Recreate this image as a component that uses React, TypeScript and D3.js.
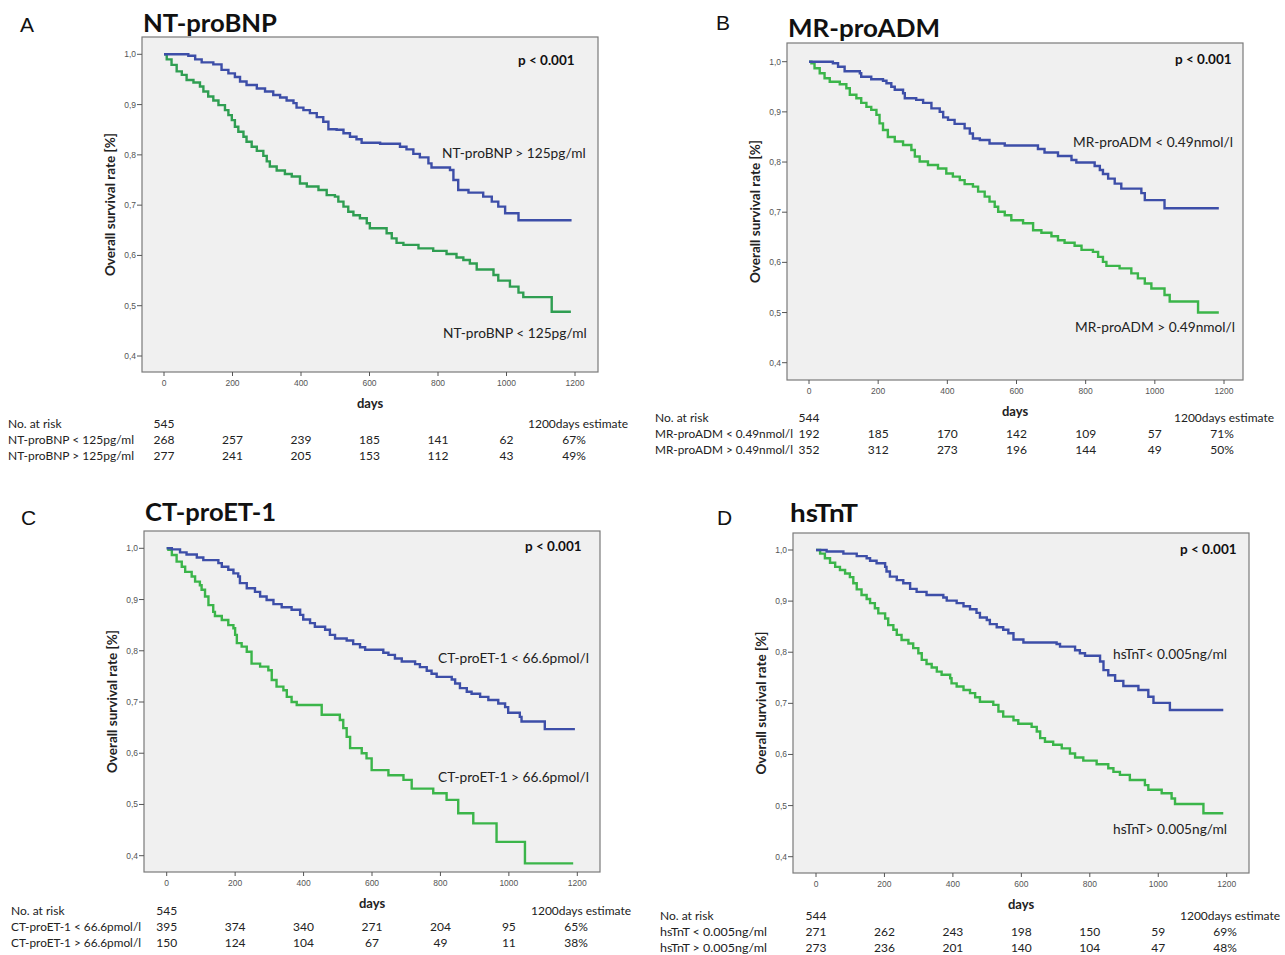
import React from "react";
import * as d3 from "d3";

type Pt = [number, number];

const xTicks = [0, 200, 400, 600, 800, 1000, 1200];
const yTicks = [0.4, 0.5, 0.6, 0.7, 0.8, 0.9, 1.0];
const riskDays = [0, 200, 400, 600, 800, 1000];

// ---- Panel A: NT-proBNP ----
const ntHigh: Pt[] = [
  [71, 0.997], [91, 0.99], [110, 0.984], [144, 0.98], [168, 0.969], [188, 0.962], [207, 0.955],
  [222, 0.946], [241, 0.939], [271, 0.932], [295, 0.926], [319, 0.919], [339, 0.914], [358, 0.908],
  [378, 0.903], [387, 0.894], [407, 0.889], [426, 0.883], [446, 0.875], [465, 0.866], [480, 0.851],
  [504, 0.85], [524, 0.843], [543, 0.836], [562, 0.831], [577, 0.824], [631, 0.822], [689, 0.816],
  [708, 0.811], [728, 0.802], [747, 0.795], [772, 0.783], [781, 0.775], [835, 0.77], [845, 0.75],
  [859, 0.73], [889, 0.725], [932, 0.717], [957, 0.707], [976, 0.697], [996, 0.684], [1035, 0.67],
];
const ntLow: Pt[] = [
  [8, 0.99], [22, 0.979], [37, 0.966], [52, 0.959], [66, 0.949], [86, 0.944], [105, 0.936],
  [115, 0.926], [129, 0.916], [144, 0.908], [159, 0.899], [178, 0.889], [188, 0.879], [198, 0.869],
  [207, 0.856], [217, 0.846], [232, 0.836], [241, 0.826], [256, 0.816], [271, 0.808], [290, 0.798],
  [300, 0.787], [309, 0.777], [329, 0.769], [353, 0.762], [373, 0.757], [397, 0.743], [417, 0.737],
  [451, 0.73], [475, 0.72], [499, 0.717], [509, 0.707], [524, 0.697], [538, 0.687], [553, 0.68],
  [572, 0.674], [592, 0.664], [601, 0.654], [650, 0.644], [665, 0.634], [679, 0.625], [699, 0.621],
  [743, 0.614], [786, 0.609], [825, 0.603], [854, 0.596], [874, 0.591], [893, 0.584], [913, 0.572],
  [962, 0.561], [976, 0.55], [1010, 0.538], [1035, 0.526], [1049, 0.517], [1132, 0.488],
];

// ---- Panel B: MR-proADM ----
const admLow: Pt[] = [
  [69, 0.997], [84, 0.99], [103, 0.981], [147, 0.977], [151, 0.97], [180, 0.965], [214, 0.962],
  [224, 0.957], [238, 0.95], [248, 0.944], [272, 0.937], [277, 0.927], [310, 0.924], [330, 0.918],
  [354, 0.907], [378, 0.9], [388, 0.889], [402, 0.884], [421, 0.876], [450, 0.867], [465, 0.857],
  [474, 0.847], [494, 0.844], [522, 0.837], [566, 0.833], [662, 0.826], [681, 0.819], [720, 0.812],
  [759, 0.804], [773, 0.799], [826, 0.792], [841, 0.784], [850, 0.776], [865, 0.767], [884, 0.757],
  [903, 0.747], [961, 0.738], [971, 0.724], [1028, 0.708],
];
const admHigh: Pt[] = [
  [7, 0.997], [16, 0.987], [31, 0.977], [45, 0.967], [60, 0.96], [89, 0.955], [108, 0.947],
  [118, 0.934], [137, 0.927], [151, 0.918], [166, 0.91], [180, 0.904], [195, 0.894], [204, 0.877],
  [214, 0.864], [228, 0.85], [248, 0.841], [272, 0.834], [296, 0.824], [306, 0.811], [320, 0.801],
  [344, 0.794], [373, 0.787], [397, 0.777], [416, 0.771], [436, 0.764], [450, 0.756], [474, 0.751],
  [489, 0.741], [508, 0.731], [522, 0.721], [537, 0.711], [547, 0.701], [566, 0.694], [585, 0.684],
  [619, 0.678], [648, 0.664], [672, 0.659], [701, 0.652], [720, 0.644], [739, 0.639], [768, 0.633],
  [788, 0.625], [821, 0.621], [836, 0.611], [850, 0.601], [860, 0.593], [898, 0.588], [932, 0.578],
  [951, 0.568], [971, 0.558], [990, 0.548], [1028, 0.535], [1043, 0.522], [1125, 0.5],
];

// ---- Panel C: CT-proET-1 ----
const etLow: Pt[] = [
  [15, 0.998], [39, 0.992], [58, 0.988], [88, 0.982], [107, 0.977], [151, 0.971], [161, 0.964],
  [180, 0.958], [195, 0.951], [209, 0.945], [214, 0.932], [234, 0.922], [258, 0.915], [273, 0.906],
  [292, 0.899], [312, 0.891], [336, 0.885], [365, 0.88], [390, 0.87], [399, 0.861], [419, 0.854],
  [433, 0.847], [463, 0.841], [477, 0.831], [492, 0.824], [526, 0.82], [545, 0.813], [565, 0.807],
  [580, 0.802], [633, 0.796], [648, 0.792], [667, 0.785], [687, 0.779], [726, 0.774], [740, 0.768],
  [760, 0.761], [774, 0.755], [789, 0.749], [833, 0.744], [843, 0.736], [857, 0.727], [877, 0.72],
  [891, 0.716], [916, 0.71], [940, 0.704], [969, 0.697], [989, 0.69], [998, 0.679], [1032, 0.671],
  [1037, 0.662], [1105, 0.647],
];
const etHigh: Pt[] = [
  [5, 0.997], [15, 0.987], [29, 0.974], [44, 0.964], [54, 0.954], [73, 0.945], [83, 0.935],
  [97, 0.928], [102, 0.919], [112, 0.906], [122, 0.889], [136, 0.876], [141, 0.868], [161, 0.86],
  [180, 0.85], [195, 0.844], [200, 0.831], [205, 0.815], [219, 0.808], [234, 0.798], [248, 0.775],
  [273, 0.769], [297, 0.762], [307, 0.743], [321, 0.73], [341, 0.723], [351, 0.71], [365, 0.7],
  [380, 0.694], [453, 0.675], [506, 0.665], [516, 0.649], [526, 0.632], [536, 0.61], [570, 0.6],
  [584, 0.59], [599, 0.567], [648, 0.557], [692, 0.548], [716, 0.531], [779, 0.522], [818, 0.509],
  [852, 0.483], [896, 0.463], [964, 0.427], [1047, 0.385],
];

// ---- Panel D: hsTnT ----
const tntLow: Pt[] = [
  [31, 0.997], [80, 0.993], [119, 0.988], [148, 0.984], [158, 0.979], [177, 0.974], [202, 0.967],
  [206, 0.958], [216, 0.948], [236, 0.941], [255, 0.935], [275, 0.924], [294, 0.918], [323, 0.912],
  [372, 0.907], [382, 0.901], [411, 0.896], [431, 0.89], [450, 0.884], [469, 0.877], [479, 0.868],
  [499, 0.863], [508, 0.855], [528, 0.849], [547, 0.844], [562, 0.837], [577, 0.825], [606, 0.819],
  [703, 0.816], [713, 0.811], [757, 0.804], [771, 0.798], [786, 0.793], [830, 0.782], [840, 0.765],
  [854, 0.755], [874, 0.744], [898, 0.734], [942, 0.726], [971, 0.713], [986, 0.701], [1034, 0.687],
];
const tntHigh: Pt[] = [
  [12, 0.993], [26, 0.984], [41, 0.975], [56, 0.967], [70, 0.961], [85, 0.954], [99, 0.947],
  [109, 0.935], [119, 0.923], [133, 0.912], [148, 0.904], [158, 0.896], [172, 0.886], [182, 0.876],
  [202, 0.866], [211, 0.853], [226, 0.844], [236, 0.834], [250, 0.824], [270, 0.817], [284, 0.808],
  [299, 0.798], [309, 0.785], [323, 0.777], [338, 0.77], [353, 0.762], [367, 0.756], [392, 0.749],
  [396, 0.739], [411, 0.733], [431, 0.726], [450, 0.72], [465, 0.712], [479, 0.703], [518, 0.697],
  [533, 0.684], [547, 0.674], [577, 0.667], [591, 0.66], [630, 0.654], [645, 0.645], [655, 0.632],
  [669, 0.625], [693, 0.619], [718, 0.612], [742, 0.602], [757, 0.594], [781, 0.588], [820, 0.581],
  [854, 0.573], [869, 0.566], [888, 0.56], [917, 0.55], [961, 0.54], [971, 0.531], [1010, 0.524],
  [1039, 0.514], [1049, 0.503], [1132, 0.485],
];

// ---- Risk tables ----
const ntRiskTotal = "545";
const ntRiskLow = ["268", "257", "239", "185", "141", "62"];
const ntRiskHigh = ["277", "241", "205", "153", "112", "43"];
const ntEst = ["67%", "49%"];
const ntRows = ["NT-proBNP < 125pg/ml", "NT-proBNP > 125pg/ml"];

const admRiskTotal = "544";
const admRiskLow = ["192", "185", "170", "142", "109", "57"];
const admRiskHigh = ["352", "312", "273", "196", "144", "49"];
const admEst = ["71%", "50%"];
const admRows = ["MR-proADM < 0.49nmol/l", "MR-proADM > 0.49nmol/l"];

const etRiskTotal = "545";
const etRiskLow = ["395", "374", "340", "271", "204", "95"];
const etRiskHigh = ["150", "124", "104", "67", "49", "11"];
const etEst = ["65%", "38%"];
const etRows = ["CT-proET-1 < 66.6pmol/l", "CT-proET-1 > 66.6pmol/l"];

const tntRiskTotal = "544";
const tntRiskLow = ["271", "262", "243", "198", "150", "59"];
const tntRiskHigh = ["273", "236", "201", "140", "104", "47"];
const tntEst = ["69%", "48%"];
const tntRows = ["hsTnT < 0.005ng/ml", "hsTnT > 0.005ng/ml"];

const BLUE = "#3d4ea8";
const GREEN_DARK = "#2f9e52";
const GREEN = "#3bb54a";
const FONT = "Lato, 'Open Sans', sans-serif";
const TICKFONT = "'Liberation Sans', Arial, sans-serif";

interface PanelProps {
  letter: string;
  letterPos: [number, number];
  title: string;
  titlePos: [number, number];
  titleLen: number;
  box: [number, number, number, number];
  xr: [number, number];
  yr: [number, number];
  blue: Pt[];
  green: Pt[];
  greenColor: string;
  blueEnd: number;
  greenEnd: number;
  blueLabel: string;
  greenLabel: string;
  blueLabelPos: [number, number];
  greenLabelPos: [number, number];
  pPos: [number, number];
  tableTop: number;
  tableX: number;
  estX: number;
  riskTotal: string;
  riskRows: string[];
  riskLow: string[];
  riskHigh: string[];
  est: string[];
  estHeaderX: number;
  labelW: number;
}

function stepPath(x: d3.ScaleLinear<number, number>, y: d3.ScaleLinear<number, number>, pts: Pt[], end: number) {
  const all: Pt[] = [[0, 1], ...pts, [end, pts[pts.length - 1][1]]];
  const line = d3
    .line<Pt>()
    .x((d) => x(d[0]))
    .y((d) => y(d[1]))
    .curve(d3.curveStepAfter);
  return line(all) || "";
}

function Panel(p: PanelProps) {
  const [bx0, by0, bx1, by1] = p.box;
  const x = d3.scaleLinear().domain([0, 1200]).range(p.xr);
  const y = d3.scaleLinear().domain([0.4, 1.0]).range(p.yr);
  const fmtY = (v: number) => v.toFixed(1).replace(".", ",");
  const tickLabelY = by1 + 11;
  const midX = (bx0 + bx1) / 2;
  const midY = (by0 + by1) / 2;
  const t = p.tableTop;
  const rowGap = 16;
  return (
    <g>
      <text x={p.letterPos[0]} y={p.letterPos[1]} fontFamily={TICKFONT} fontSize={21} fill="#111">
        {p.letter}
      </text>
      <text
        x={p.titlePos[0]}
        y={p.titlePos[1]}
        fontFamily={FONT}
        fontWeight={700}
        fontSize={25}
        fill="#111"
        textLength={p.titleLen}
        lengthAdjust="spacingAndGlyphs"
      >
        {p.title}
      </text>
      <rect x={bx0} y={by0} width={bx1 - bx0} height={by1 - by0} fill="#f0f0f0" stroke="#7a7a7a" strokeWidth={1.2} />
      {yTicks.map((v) => (
        <g key={"y" + v}>
          <line x1={bx0 - 5} x2={bx0} y1={y(v)} y2={y(v)} stroke="#555" strokeWidth={1} />
          <text x={bx0 - 6} y={y(v)} dy="0.35em" textAnchor="end" fontFamily={TICKFONT} fontSize={8.5} fill="#555">
            {fmtY(v)}
          </text>
        </g>
      ))}
      {xTicks.map((v) => (
        <g key={"x" + v}>
          <line x1={x(v)} x2={x(v)} y1={by1} y2={by1 + 4} stroke="#555" strokeWidth={1} />
          <text x={x(v)} y={tickLabelY} dy="0.35em" textAnchor="middle" fontFamily={TICKFONT} fontSize={8.5} fill="#555">
            {v}
          </text>
        </g>
      ))}
      <text
        transform={`translate(${bx0 - 32},${midY}) rotate(-90)`}
        textAnchor="middle"
        dy="0.35em"
        fontFamily={FONT}
        fontWeight={700}
        fontSize={13.5}
        fill="#222"
      >
        Overall survival rate [%]
      </text>
      <text x={midX} y={by1 + 31} dy="0.35em" textAnchor="middle" fontFamily={FONT} fontWeight={700} fontSize={13} fill="#222">
        days
      </text>
      <path d={stepPath(x, y, p.green, p.greenEnd)} fill="none" stroke={p.greenColor} strokeWidth={2.4} />
      <path d={stepPath(x, y, p.blue, p.blueEnd)} fill="none" stroke={BLUE} strokeWidth={2.4} />
      <text x={p.pPos[0]} y={p.pPos[1]} dy="0.35em" fontFamily={FONT} fontWeight={700} fontSize={13.5} fill="#111">
        p &lt; 0.001
      </text>
      <text x={p.blueLabelPos[0]} y={p.blueLabelPos[1]} dy="0.35em" fontFamily={FONT} fontSize={13.7} fill="#222">
        {p.blueLabel}
      </text>
      <text x={p.greenLabelPos[0]} y={p.greenLabelPos[1]} dy="0.35em" fontFamily={FONT} fontSize={13.7} fill="#222">
        {p.greenLabel}
      </text>
      {/* risk table */}
      <g fontFamily={FONT} fontSize={12} fill="#222">
        <text x={p.tableX} y={t} dy="0.35em">No. at risk</text>
        <text x={x(0)} y={t} dy="0.35em" textAnchor="middle">{p.riskTotal}</text>
        <text x={p.estHeaderX} y={t} dy="0.35em" textAnchor="middle">1200days estimate</text>
        {[p.riskLow, p.riskHigh].map((row, ri) => (
          <g key={"r" + ri}>
            <text x={p.tableX} y={t + rowGap * (ri + 1)} dy="0.35em" textLength={p.labelW} lengthAdjust="spacingAndGlyphs">
              {p.riskRows[ri]}
            </text>
            {row.map((v, ci) => (
              <text key={ci} x={x(riskDays[ci])} y={t + rowGap * (ri + 1)} dy="0.35em" textAnchor="middle">
                {v}
              </text>
            ))}
            <text x={p.estX} y={t + rowGap * (ri + 1)} dy="0.35em" textAnchor="middle">{p.est[ri]}</text>
          </g>
        ))}
      </g>
    </g>
  );
}

export default function App() {
  return (
    <svg width={1285} height={955} style={{ position: "absolute", left: 0, top: 0, background: "#fff" }}>
      <Panel
        letter="A" letterPos={[20, 32]} title="NT-proBNP" titlePos={[143, 32]} titleLen={134}
        box={[142, 37, 598, 372]} xr={[164, 575]} yr={[356, 54.3]}
        blue={ntHigh} green={ntLow} greenColor={GREEN_DARK} blueEnd={1190} greenEnd={1188}
        blueLabel="NT-proBNP > 125pg/ml" greenLabel="NT-proBNP < 125pg/ml"
        blueLabelPos={[442, 153]} greenLabelPos={[443, 333]} pPos={[518, 60]}
        tableTop={424} tableX={8} estX={574} estHeaderX={578} labelW={126}
        riskTotal={ntRiskTotal} riskRows={ntRows} riskLow={ntRiskLow} riskHigh={ntRiskHigh} est={ntEst}
      />
      <Panel
        letter="B" letterPos={[716, 30]} title="MR-proADM" titlePos={[788, 37]} titleLen={152}
        box={[787, 43, 1243, 380]} xr={[809, 1224]} yr={[362.7, 61.7]}
        blue={admLow} green={admHigh} greenColor={GREEN} blueEnd={1185} greenEnd={1185}
        blueLabel="MR-proADM < 0.49nmol/l" greenLabel="MR-proADM > 0.49nmol/l"
        blueLabelPos={[1073, 142]} greenLabelPos={[1075, 327]} pPos={[1175, 59]}
        tableTop={418} tableX={655} estX={1222} estHeaderX={1224} labelW={138}
        riskTotal={admRiskTotal} riskRows={admRows} riskLow={admRiskLow} riskHigh={admRiskHigh} est={admEst}
      />
      <Panel
        letter="C" letterPos={[21, 525]} title="CT-proET-1" titlePos={[145, 521]} titleLen={131}
        box={[144, 531, 600, 872]} xr={[166.7, 577.3]} yr={[855.7, 548.3]}
        blue={etLow} green={etHigh} greenColor={GREEN} blueEnd={1193} greenEnd={1188}
        blueLabel="CT-proET-1 < 66.6pmol/l" greenLabel="CT-proET-1 > 66.6pmol/l"
        blueLabelPos={[438, 658]} greenLabelPos={[438, 777]} pPos={[525, 546]}
        tableTop={911} tableX={11} estX={576} estHeaderX={581} labelW={130}
        riskTotal={etRiskTotal} riskRows={etRows} riskLow={etRiskLow} riskHigh={etRiskHigh} est={etEst}
      />
      <Panel
        letter="D" letterPos={[717, 525]} title="hsTnT" titlePos={[790, 522]} titleLen={68}
        box={[793, 533, 1249, 873]} xr={[816, 1226.7]} yr={[856.7, 550]}
        blue={tntLow} green={tntHigh} greenColor={GREEN} blueEnd={1190} greenEnd={1190}
        blueLabel="hsTnT< 0.005ng/ml" greenLabel="hsTnT> 0.005ng/ml"
        blueLabelPos={[1113, 654]} greenLabelPos={[1113, 829]} pPos={[1180, 549]}
        tableTop={916} tableX={660} estX={1225} estHeaderX={1230} labelW={107}
        riskTotal={tntRiskTotal} riskRows={tntRows} riskLow={tntRiskLow} riskHigh={tntRiskHigh} est={tntEst}
      />
    </svg>
  );
}
